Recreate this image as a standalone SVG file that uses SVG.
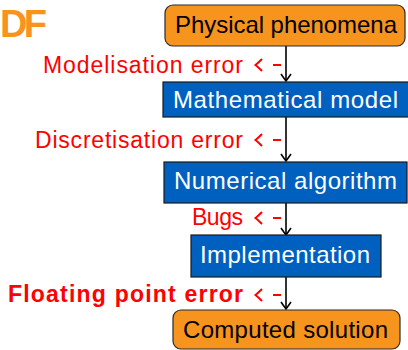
<svg xmlns="http://www.w3.org/2000/svg" width="408" height="350" viewBox="0 0 408 350">
<style>
.orange{fill:#F7941E;stroke:#2a2a2a;stroke-width:1.2}
.blue{fill:#0060BF;stroke:#1a1a1a;stroke-width:1.2}
.nt{font-family:"Liberation Sans",Arial,sans-serif;font-size:24px;text-anchor:start}
.dark{fill:#000}
.light{fill:#fff}
.lbl{font-family:"Liberation Sans",Arial,sans-serif;font-size:23px;fill:#FF0000}
.bold{font-weight:bold}
.conn{stroke:#000;stroke-width:1.6;fill:none}
.err{stroke:#FF0000;stroke-width:2;fill:none}
</style>
<defs>
<marker id="ah" markerUnits="userSpaceOnUse" markerWidth="20" markerHeight="20" refX="10" refY="10" orient="auto" overflow="visible">
<path d="M3,5 Q8,8.5 10,10 Q8,11.5 3,15" stroke="#000" stroke-width="1.6" fill="none"/>
</marker>
</defs>
<text x="0" y="37" font-family="Liberation Sans,Arial,sans-serif" font-weight="bold" font-size="38" fill="#F7941E" textLength="47">DF</text>
<g id="connectors">
<line class="conn" x1="286" y1="46" x2="286" y2="81" marker-end="url(#ah)"/>
<line class="conn" x1="286" y1="117" x2="286" y2="161" marker-end="url(#ah)"/>
<line class="conn" x1="286" y1="203" x2="286" y2="235" marker-end="url(#ah)"/>
<line class="conn" x1="286" y1="277" x2="286" y2="309" marker-end="url(#ah)"/>
<g id="err1"><line class="err" x1="273" y1="65" x2="281" y2="65"/><path class="err" d="M262,59 Q258,63 255.5,65 Q258,67 262,71"/></g>
<g id="err2"><line class="err" x1="273" y1="140" x2="281" y2="140"/><path class="err" d="M262,134 Q258,138 255.5,140 Q258,142 262,146"/></g>
<g id="err3"><line class="err" x1="273" y1="218" x2="281" y2="218"/><path class="err" d="M262,212 Q258,216 255.5,218 Q258,220 262,224"/></g>
<g id="err4"><line class="err" x1="273" y1="295" x2="281" y2="295"/><path class="err" d="M262,289 Q258,293 255.5,295 Q258,297 262,301"/></g>
</g>
<g id="labels">
<text class="lbl" x="43" y="73" textLength="200">Modelisation error</text>
<text class="lbl" x="35" y="148" textLength="208">Discretisation error</text>
<text class="lbl" x="192" y="225" textLength="51">Bugs</text>
<text class="lbl bold" x="8" y="302" textLength="235">Floating point error</text>
</g>
<g id="physical">
<rect class="orange" x="165" y="5" width="240" height="41" rx="8"/>
<text class="nt dark" x="175" y="33" textLength="222">Physical phenomena</text>
</g>
<g id="mathematical">
<rect class="blue" x="163" y="82" width="250" height="35"/>
<text class="nt light" x="173" y="108" textLength="225">Mathematical model</text>
</g>
<g id="numerical">
<rect class="blue" x="164" y="162" width="243" height="41"/>
<text class="nt light" x="174" y="189" textLength="223">Numerical algorithm</text>
</g>
<g id="implementation">
<rect class="blue" x="191" y="235" width="190" height="42"/>
<text class="nt light" x="200" y="263" textLength="170">Implementation</text>
</g>
<g id="computed">
<rect class="orange" x="173" y="310" width="227" height="39" rx="8"/>
<text class="nt dark" x="183" y="338" textLength="205">Computed solution</text>
</g>
</svg>
